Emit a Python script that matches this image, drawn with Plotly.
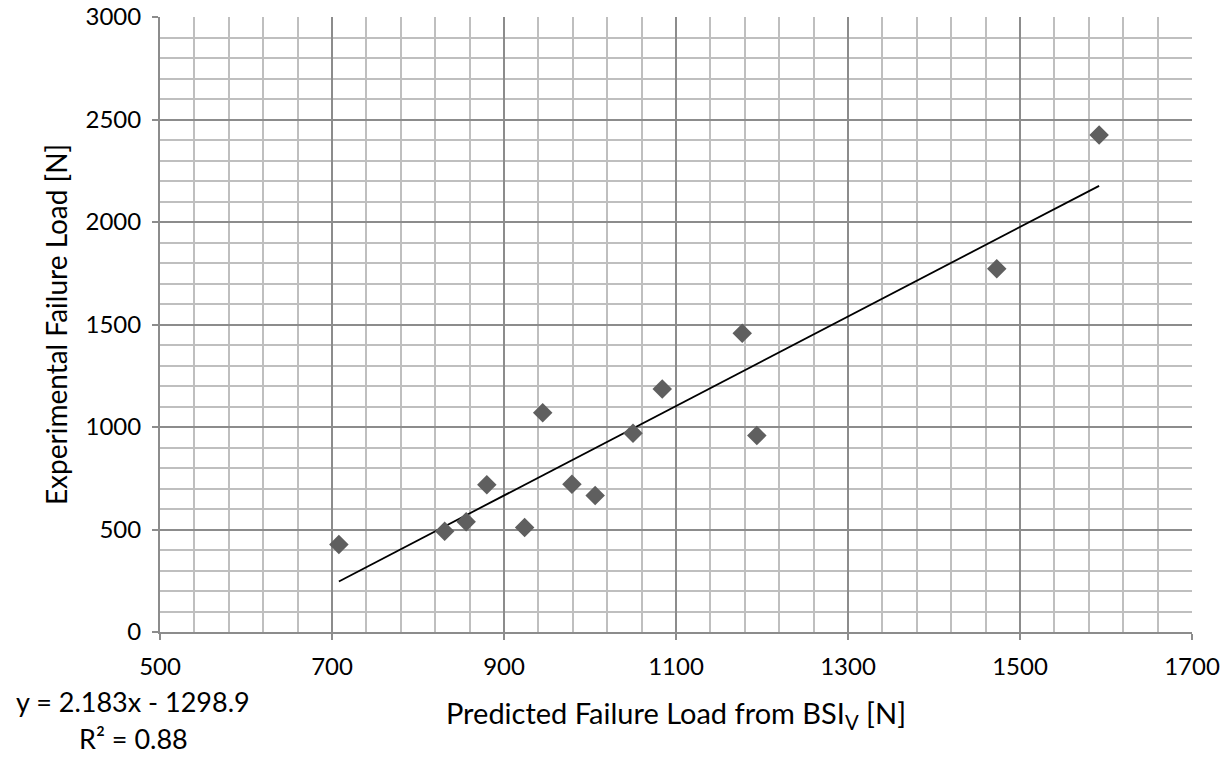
import plotly.graph_objects as go

predicted = [708, 831, 856, 880, 924, 945, 979, 1006, 1050, 1084, 1177, 1194, 1473, 1592]
experimental = [427, 491, 538, 718, 510, 1070, 721, 666, 970, 1185, 1457, 958, 1772, 2425]

slope = 2.183
intercept = -1298.9
r2 = 0.88

x_ticks = [500, 700, 900, 1100, 1300, 1500, 1700]
y_ticks = [0, 500, 1000, 1500, 2000, 2500, 3000]

trend_x = [min(predicted), max(predicted)]
trend_y = [slope * v + intercept for v in trend_x]

FONT = "Lato"
fig = go.Figure()
fig.add_trace(go.Scatter(x=trend_x, y=trend_y, mode="lines",
                         line=dict(color="black", width=1.8), showlegend=False,
                         hoverinfo="skip"))
fig.add_trace(go.Scatter(x=predicted, y=experimental, mode="markers",
                         marker=dict(symbol="diamond", size=15, color="#5f5f5f",
                                     line=dict(width=0)),
                         showlegend=False))

major_c = "#8c8c8c"
minor_c = "#bfbfbf"
fig.update_xaxes(range=[500, 1700], tickvals=x_ticks, showgrid=True, gridcolor=major_c,
                 gridwidth=2, minor=dict(dtick=40, tick0=500, showgrid=True,
                                         gridcolor=minor_c, gridwidth=2, ticks=""),
                 showline=True, linecolor=major_c, linewidth=2, ticks="outside",
                 ticklen=6, tickcolor=major_c, tickwidth=1.5, zeroline=False,
                 tickfont=dict(family=FONT, size=24, color="black"),
                 ticklabelstandoff=6,
                 title=dict(text="Predicted Failure Load from BSI<sub>V</sub> [N]",
                            font=dict(family=FONT, size=29, color="black"), standoff=25))
fig.update_yaxes(range=[0, 3000], tickvals=y_ticks, showgrid=True, gridcolor=major_c,
                 gridwidth=2, minor=dict(dtick=100, showgrid=True,
                                         gridcolor=minor_c, gridwidth=2, ticks=""),
                 showline=True, linecolor=major_c, linewidth=2, ticks="outside",
                 ticklen=6, tickcolor=major_c, tickwidth=1.5, zeroline=False,
                 tickfont=dict(family=FONT, size=24, color="black"),
                 ticklabelstandoff=6,
                 title=dict(text="Experimental Failure Load [N]",
                            font=dict(family=FONT, size=28, color="black"), standoff=10))

fig.add_annotation(xref="paper", yref="paper", x=-0.026, y=-0.1125,
                   xanchor="center", yanchor="middle", showarrow=False,
                   text=f"y = {slope}x - {abs(intercept)}",
                   font=dict(family=FONT, size=27, color="black"))
fig.add_annotation(xref="paper", yref="paper", x=-0.026, y=-0.1735,
                   xanchor="center", yanchor="middle", showarrow=False,
                   text=f"R² = {r2}",
                   font=dict(family=FONT, size=27, color="black"))

fig.update_layout(width=1228, height=757, margin=dict(l=160, r=36, t=17, b=125, autoexpand=False),
                  paper_bgcolor="white", plot_bgcolor="white",
                  font=dict(family=FONT, color="black"))
fig.write_html("out.html")
